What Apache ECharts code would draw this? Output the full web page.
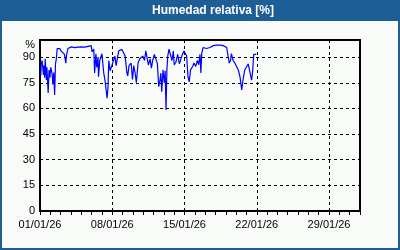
<!DOCTYPE html>
<html><head><meta charset="utf-8">
<script src="https://cdn.jsdelivr.net/npm/echarts@6/dist/echarts.min.js"></script>
<style>html,body{margin:0;padding:0;background:#f8fbf8}#c{width:400px;height:250px}</style>
</head><body><div id="c"></div>
<script>
// hours since 01/01/26 00:00
const hours = [2,3,5,8,9,11,12,15,16,19,21,23,25,28,30,32,34,36,38,40,43,46,49,53,57,60,62,65,69,73,81,88,96,104,112,119,121,125,127,130,132,135,136,139,144,148,151,156,158,160,163,167,171,174,177,179,183,186,190,194,198,202,204,207,212,215,218,221,224,228,232,235,239,243,246,250,252,256,259,262,266,269,273,276,279,281,283,286,289,291,293,295,297,300,304,307,310,312,316,320,324,328,331,335,339,341,344,347,350,355,358,362,366,369,372,374,376,379,387,391,395,403,410,418,422,426,434,440,443,445,449,453,457,461,465,469,472,476,480,484,488,492,494,497,501,503];
const humidity = [79.5,86,88,79.5,85,78,89,76.6,84,69,82.5,78,84,80.6,74,81,67.8,86,89,95,94.5,95,93.6,94.5,91.6,86.5,91.6,95,95.5,96,95.5,95.8,96,95.8,96.3,96.7,93,94.7,80.7,92,84,90,78.5,88,92,81,76.6,66,72,88,82,85,84,90.6,85,88,93.6,94.6,94.6,94.3,90.6,80.7,79,85,86.5,77,85,81,75,86.5,89,88,90.6,88,93.6,93.6,85.4,89,83.6,88,91.6,90.6,86,72.7,76.6,80.6,69.8,82.5,75,82,59,82.5,90.6,94.6,95.6,88,93.6,85.5,87,91.6,86,85,91.6,93.6,94.5,90.6,78.5,75.6,82.5,84.5,86.5,84.5,88,85.5,91.6,80.7,92,95.6,95,94,95.6,96.7,97,97,97,96.7,95.6,86.5,88,92,88,86.5,87,82.5,78.5,70.8,76.6,82.5,81.5,86,86,76.6,80.6,91.6,92.6,91.6];
const xTickLabels = ['01/01/26','08/01/26','15/01/26','22/01/26','29/01/26'];
const titleText = 'Humedad relativa [%]';

const chart = echarts.init(document.getElementById('c'), null, {renderer:'canvas'});
const font = '"Liberation Sans", Arial, sans-serif';
chart.setOption({
  animation:false,
  backgroundColor:'#f8fbf8',
  graphic:[
    {type:'rect', z:0, shape:{x:0,y:0,width:400,height:21}, style:{fill:'#1e5e96'}},
    {type:'rect', z:0, shape:{x:1,y:1,width:398,height:248}, style:{fill:null, stroke:'#1e5e96', lineWidth:2}},
    {type:'text', z:1, x:213, y:11, style:{text:titleText, fill:'#ffffff', font:'bold 12px '+font, textAlign:'center', textVerticalAlign:'middle'}}
  ],
  grid:{left:40, top:40, width:320, height:171, show:true, borderColor:'#000', borderWidth:2, backgroundColor:'transparent'},
  xAxis:{
    type:'value', min:0, max:744, interval:168,
    axisLine:{show:true, lineStyle:{color:'#000', width:2}},
    axisTick:{show:true, length:4, lineStyle:{color:'#000'}},
    minorTick:{show:true, splitNumber:7, length:4, lineStyle:{color:'#000'}},
    splitLine:{show:true, lineStyle:{color:'#000', type:[3,3], width:1}},
    axisLabel:{color:'#000', fontFamily:font, fontSize:11, margin:8, showMaxLabel:false,
      formatter:function(v){const i=Math.round(v/168); return (Math.abs(v-i*168)<0.01 && xTickLabels[i])?xTickLabels[i]:'';}}
  },
  yAxis:{
    type:'value', min:0, max:100, interval:15,
    name:'%', nameLocation:'end', nameGap:-5,
    nameTextStyle:{color:'#000', fontFamily:font, fontSize:11, align:'right', verticalAlign:'middle', padding:[0,5,0,0]},
    axisLine:{show:true, lineStyle:{color:'#000', width:2}},
    axisTick:{show:false},
    splitLine:{show:true, lineStyle:{color:'#000', type:[3,3], width:1}},
    axisLabel:{color:'#000', fontFamily:font, fontSize:11, margin:5, showMaxLabel:false,
      formatter:function(v){return v%15===0?String(v):'';}}
  },
  series:[{
    type:'line', showSymbol:false, symbol:'none',
    lineStyle:{color:'#0000ff', width:1.2}, itemStyle:{color:'#0000ff'},
    data: hours.map((h,i)=>[h, humidity[i]])
  }]
});
</script></body></html>
